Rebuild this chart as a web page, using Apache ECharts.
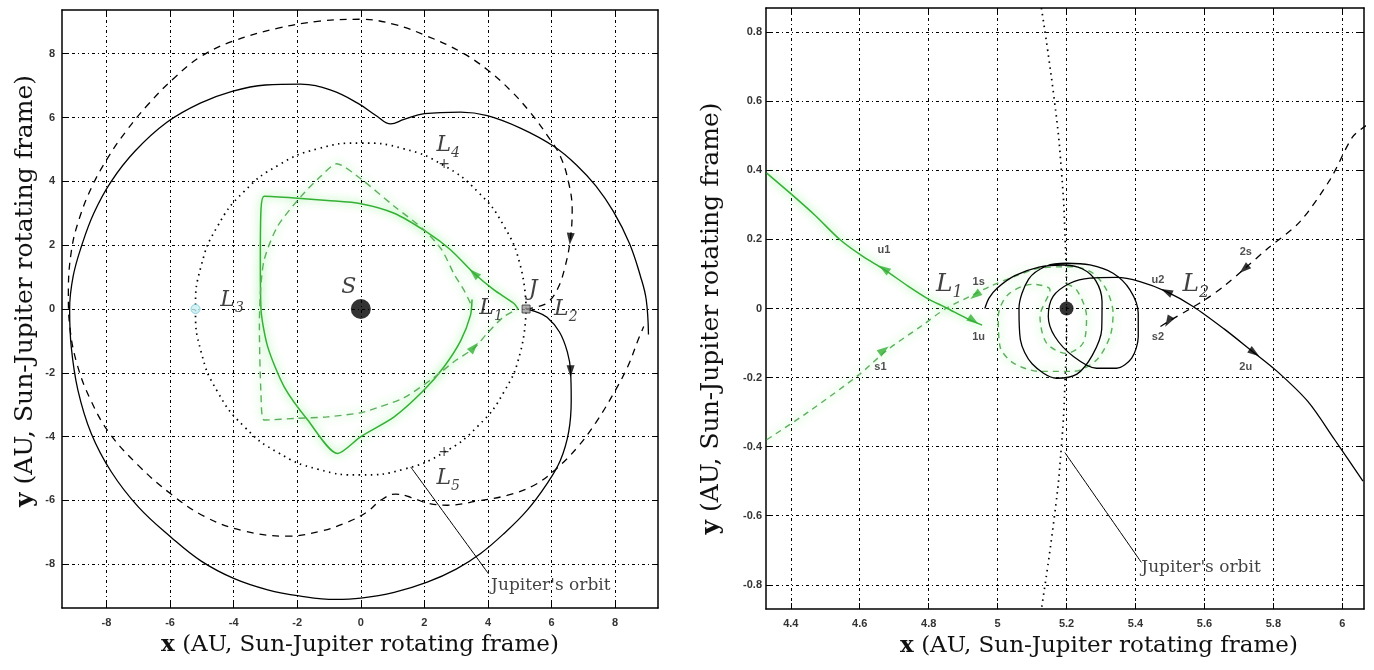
<!DOCTYPE html>
<html><head><meta charset="utf-8">
<script src="https://cdn.jsdelivr.net/npm/echarts@6/dist/echarts.min.js"></script>
<style>html,body{margin:0;padding:0;background:#fff}#c{width:1374px;height:670px}</style>
</head><body><div id="c"></div><script>
// ---- tick values ----
const leftTicks = [-8,-6,-4,-2,0,2,4,6,8];
const rightXTicks = [4.4,4.6,4.8,5.0,5.2,5.4,5.6,5.8,6.0];
const rightYTicks = [-0.8,-0.6,-0.4,-0.2,0,0.2,0.4,0.6,0.8];

// ---- left panel data ----
const jupOrbitLeft = [[5.2,0],[5.023,1.346],[4.503,2.6],[3.677,3.677],[2.6,4.503],[1.346,5.023],[0,5.2],[-1.346,5.023],[-2.6,4.503],[-3.677,3.677],[-4.503,2.6],[-5.023,1.346],[-5.2,0],[-5.023,-1.346],[-4.503,-2.6],[-3.677,-3.677],[-2.6,-4.503],[-1.346,-5.023],[0,-5.2],[1.346,-5.023],[2.6,-4.503],[3.677,-3.677],[4.503,-2.6],[5.023,-1.346],[5.2,0]];
const unstableLeft = [[5.2,0],[5.5,-0.08],[5.86,-0.26],[6.25,-0.72],[6.5,-1.35],[6.6,-1.95],[6.62,-2.86],[6.54,-3.85],[6.28,-4.74],[5.86,-5.47],[5.23,-6.31],[4.5,-7.04],[3.77,-7.66],[3.0,-8.15],[2.09,-8.56],[1.05,-8.88],[0,-9.06],[-0.8,-9.1],[-1.94,-8.99],[-2.93,-8.8],[-3.98,-8.45],[-5.02,-7.9],[-5.97,-7.15],[-7.0,-6.2],[-7.85,-5.1],[-8.48,-3.9],[-8.9,-2.54],[-9.11,-1.18],[-9.16,0],[-9.05,1.02],[-8.79,1.96],[-8.4,3.0],[-7.85,4.0],[-7.1,4.95],[-6.1,5.85],[-5.05,6.45],[-4.05,6.82],[-3.0,7.02],[-1.9,7.05],[-0.92,6.85],[-0.1,6.45],[0.5,6.05],[0.94,5.8],[1.36,5.94],[2.0,6.12],[3.14,6.17],[3.98,6.06],[5.02,5.67],[6.07,5.1],[6.8,4.5],[7.4,3.85],[7.95,3.05],[8.45,2.06],[8.8,1.02],[8.98,0.29],[9.05,-0.8]];
const stableLeft = [[5.2,0],[5.6,0.08],[5.9,0.22],[6.2,0.65],[6.42,1.3],[6.59,2.17],[6.65,3.11],[6.54,3.95],[6.28,4.78],[5.86,5.45],[5.34,6.15],[4.71,6.85],[3.98,7.5],[3.14,8.06],[2.09,8.55],[1.05,8.92],[0,9.08],[-1.3,9.02],[-2.6,8.8],[-4.0,8.4],[-5.02,7.92],[-5.86,7.25],[-6.7,6.4],[-7.4,5.55],[-7.95,4.75],[-8.45,3.85],[-8.85,2.85],[-9.1,1.85],[-9.2,0.5],[-9.15,-0.6],[-8.92,-1.75],[-8.5,-2.85],[-7.9,-3.9],[-7.0,-4.9],[-5.97,-5.8],[-4.92,-6.5],[-3.7,-6.95],[-2.3,-7.12],[-1.26,-6.96],[-0.42,-6.68],[0.21,-6.35],[0.63,-5.99],[1.1,-5.8],[1.57,-5.9],[2.09,-6.08],[2.72,-6.15],[3.66,-6.02],[4.6,-5.84],[5.44,-5.53],[6.1,-5.05],[6.8,-4.35],[7.4,-3.55],[7.95,-2.65],[8.4,-1.8],[8.72,-0.98],[8.9,-0.55]];
const greenSolidLeft = [[4.95,0],[4.81,0.18],[4.19,0.6],[3.56,1.12],[2.83,1.85],[2.09,2.4],[1.05,3.0],[0,3.3],[-1.05,3.4],[-2.09,3.48],[-3.04,3.53],[-3.14,3.11],[-3.16,1.54],[-3.14,0],[-2.93,-1.18],[-2.41,-2.44],[-1.67,-3.48],[-0.73,-4.53],[0,-4.0],[1.05,-3.38],[1.99,-2.54],[2.62,-1.81],[3.14,-1.0],[3.45,-0.2],[3.5,0.3]];
const greenDashedLeft = [[3.45,0.18],[3.24,0.6],[2.93,1.1],[2.55,1.85],[1.99,2.48],[1.05,3.22],[0,4.08],[-0.76,4.55],[-1.26,4.16],[-1.88,3.53],[-2.62,2.59],[-3.04,1.54],[-3.16,0.49],[-3.19,-0.55],[-3.14,-2.65],[-3.04,-3.48],[-2.09,-3.43],[-1.05,-3.38],[0,-3.25],[0.5,-3.1],[1.36,-2.78],[2.3,-2.15],[3.0,-1.6],[3.56,-1.23],[3.98,-0.76],[4.5,-0.24],[4.95,0]];
const annotLineLeft = [[1.57,-4.95],[4.02,-8.3]];
const arrowsLeft = [[6.59,2.2,175,'#000'],[6.6,-1.95,180,'#000'],[3.56,1.12,47,'#33b033'],[3.56,-1.2,-42,'#33b033']];
const textsLeft = [[-0.38,0.68,'{i|S}'],[5.42,0.62,'{i|J}'],[-4.05,0.28,'{i|L}{s|3}'],[4.1,0.02,'{i|L}{s|1}'],[6.45,-0.02,'{i|L}{s|2}'],[2.75,5.12,'{i|L}{s|4}'],[2.75,-5.3,'{i|L}{s|5}'],[2.62,4.52,'{p|+}'],[2.62,-4.48,'{p|+}']];
const orbitTextLeft = [[4.1,-8.68,"Jupiter's orbit"]];

// ---- right panel data ----
const jupOrbitRight = [[5.127,0.87],[5.165,0.6],[5.185,0.4],[5.196,0.2],[5.2,0],[5.196,-0.2],[5.185,-0.4],[5.165,-0.6],[5.127,-0.87]];
const greenSolidRight = [[4.33,0.392],[4.398,0.334],[4.47,0.27],[4.543,0.199],[4.61,0.15],[4.669,0.114],[4.74,0.065],[4.798,0.028],[4.849,0.003],[4.913,-0.03],[4.955,-0.048]];
const greenDashedRight = [[4.33,-0.38],[4.45,-0.3],[4.6,-0.19],[4.68,-0.12],[4.78,-0.05],[4.85,0.0],[4.93,0.04],[4.98,0.065],[5.055,0.095],[5.123,0.117],[5.22,0.121],[5.277,0.102],[5.316,0.054],[5.335,-0.014],[5.326,-0.081],[5.287,-0.149],[5.22,-0.182],[5.123,-0.182],[5.046,-0.158],[5.007,-0.11],[5.002,-0.023],[5.03,0.04],[5.1,0.07],[5.152,0.054],[5.123,-0.023],[5.142,-0.1],[5.2,-0.13],[5.248,-0.1],[5.258,-0.023],[5.229,0.054],[5.19,0.075]];
const blackSolidRight = [[6.06,-0.5],[5.978,-0.38],[5.9,-0.269],[5.811,-0.182],[5.734,-0.12],[5.657,-0.059],[5.567,0.006],[5.49,0.049],[5.413,0.078],[5.345,0.09],[5.268,0.088],[5.21,0.073],[5.161,0.035],[5.147,-0.023],[5.166,-0.081],[5.22,-0.139],[5.287,-0.173],[5.345,-0.173],[5.389,-0.144],[5.408,-0.081],[5.408,-0.014],[5.384,0.054],[5.335,0.102],[5.268,0.126],[5.2,0.131],[5.142,0.123],[5.09,0.085],[5.062,0.0],[5.066,-0.09],[5.1,-0.16],[5.171,-0.202],[5.23,-0.19],[5.275,-0.135],[5.302,-0.06],[5.303,0.02],[5.285,0.08],[5.245,0.115],[5.19,0.126],[5.12,0.12],[5.05,0.095],[5.0,0.06],[4.975,0.03],[4.963,0.0]];
const blackDashedRight = [[6.07,0.53],[6.03,0.497],[5.965,0.374],[5.876,0.25],[5.786,0.176],[5.715,0.114],[5.657,0.065],[5.606,0.028],[5.56,0.0],[5.5,-0.035],[5.46,-0.06]];
const annotLineRight = [[5.195,-0.417],[5.417,-0.735]];
const arrowsRight = [[4.67,0.115,56,'#33b033'],[4.93,-0.035,-124,'#33b033'],[4.67,-0.12,-54,'#33b033'],[4.935,0.038,126,'#33b033'],[5.49,0.049,65,'#000'],[5.745,-0.128,-125,'#000'],[5.715,0.114,131,'#000'],[5.495,-0.038,150,'#000']];
const smallTextsRight = [[4.67,0.17,'u1'],[4.945,0.077,'1s'],[4.945,-0.083,'1u'],[4.66,-0.17,'s1'],[5.465,0.083,'u2'],[5.465,-0.083,'s2'],[5.72,0.164,'2s'],[5.72,-0.17,'2u']];
const bigTextsRight = [[4.86,0.07,'{i|L}{s|1}'],[5.575,0.07,'{i|L}{s|2}']];
const orbitTextRight = [[5.417,-0.75,"Jupiter's orbit"]];

// ---- styles ----
const GREEN = '#34b034';
const SERIF = 'DejaVu Serif';
const gridLine = {show:true, lineStyle:{color:'#000', width:1, type:[3,3,1,3]}};
const tickLbl = {fontFamily:'Liberation Sans', fontSize:11, fontWeight:'bold', color:'#333'};
const richL = {
  i:{fontFamily:SERIF, fontStyle:'italic', fontSize:22, color:'#111', lineHeight:30, verticalAlign:'middle'},
  s:{fontFamily:SERIF, fontStyle:'italic', fontSize:14, color:'#111', lineHeight:30, verticalAlign:'bottom'},
  p:{fontFamily:'DejaVu Sans', fontSize:14, color:'#111'}
};
const richLBig = {
  i:{fontFamily:SERIF, fontStyle:'italic', fontSize:25, color:'#111', lineHeight:34, verticalAlign:'middle'},
  s:{fontFamily:SERIF, fontStyle:'italic', fontSize:16, color:'#111', lineHeight:34, verticalAlign:'bottom'}
};
const titleRich = (fs) => ({ b:{fontFamily:SERIF, fontWeight:'bold', fontSize:fs, color:'#111'} });

function xMain(gi, min, max, ticks, padLeft){
  return {type:'value', gridIndex:gi, position:'bottom', min, max,
    axisLine:{show:true, onZero:false, lineStyle:{color:'#000', width:1.5}},
    axisTick:{show:true, inside:true, length:6, customValues:ticks, lineStyle:{color:'#000'}},
    axisLabel:{show:true, margin:9, customValues:ticks, ...tickLbl},
    splitLine:gridLine,
    name:'{b|x} (AU, Sun-Jupiter rotating frame)', nameLocation:'middle', nameGap:26,
    nameTextStyle:{fontFamily:SERIF, fontSize:23, color:'#111', verticalAlign:'top', padding:[0,0,0,padLeft], rich:titleRich(23)}};
}
function xTop(gi, min, max, ticks){
  return {type:'value', gridIndex:gi, position:'top', min, max,
    axisLine:{show:true, onZero:false, lineStyle:{color:'#000', width:1.5}},
    axisTick:{show:true, inside:true, length:6, customValues:ticks, lineStyle:{color:'#000'}},
    axisLabel:{show:false}, splitLine:{show:false}};
}
function yMain(gi, min, max, ticks, gap, pad, margin){
  return {type:'value', gridIndex:gi, position:'left', min, max,
    axisLine:{show:true, onZero:false, lineStyle:{color:'#000', width:1.5}},
    axisTick:{show:true, inside:true, length:6, customValues:ticks, lineStyle:{color:'#000'}},
    axisLabel:{show:true, margin, customValues:ticks, ...tickLbl},
    splitLine:gridLine,
    name:'{b|y} (AU, Sun-Jupiter rotating frame)', nameLocation:'middle', nameGap:gap,
    nameTextStyle:{fontFamily:SERIF, fontSize:25, color:'#111', padding:pad, rich:titleRich(25)}};
}
function yRight(gi, min, max, ticks){
  return {type:'value', gridIndex:gi, position:'right', min, max,
    axisLine:{show:true, onZero:false, lineStyle:{color:'#000', width:1.5}},
    axisTick:{show:true, inside:true, length:6, customValues:ticks, lineStyle:{color:'#000'}},
    axisLabel:{show:false}, splitLine:{show:false}};
}

function line(data, xi, yi, style, z, sm){
  return {type:'line', xAxisIndex:xi, yAxisIndex:yi, data, showSymbol:false, symbol:'none',
    smooth:(sm===undefined?0.3:sm), lineStyle:style, z:z||3, silent:true, animation:false};
}
function arrows(data, xi, yi, size){
  return {type:'scatter', xAxisIndex:xi, yAxisIndex:yi, animation:false, silent:true, z:6,
    data:data.map(a=>({value:[a[0],a[1]], symbolRotate:a[2], itemStyle:{color:a[3]}})),
    symbol:'triangle', symbolSize:size};
}
function texts(data, xi, yi, rich){
  return {type:'scatter', xAxisIndex:xi, yAxisIndex:yi, animation:false, silent:true, z:7,
    data, symbolSize:0,
    label:{show:true, position:'inside', formatter:p=>p.data[2], rich}};
}

const glow = {shadowBlur:8, shadowColor:'rgba(70,230,70,0.8)'};

const option = {
  animation:false,
  backgroundColor:'#fff',
  grid:[
    {left:62, top:10, width:596, height:598},
    {left:766, top:8, width:598, height:601}
  ],
  xAxis:[
    xMain(0, -9.4, 9.35, leftTicks, 0),
    xTop(0, -9.4, 9.35, leftTicks),
    xMain(1, 4.328, 6.063, rightXTicks, 68),
    xTop(1, 4.328, 6.063, rightXTicks)
  ],
  yAxis:[
    yMain(0, -9.37, 9.37, leftTicks, 24, [0,0,0,36], 7),
    yRight(0, -9.37, 9.37, leftTicks),
    yMain(1, -0.87, 0.87, rightYTicks, 42, [0,20,0,0], 4),
    yRight(1, -0.87, 0.87, rightYTicks)
  ],
  series:[
    // left panel
    line(jupOrbitLeft, 0, 0, {color:'#000', width:1.7, type:[1.5,4.5]}, 2, 0.5),
    line(unstableLeft, 0, 0, {color:'#000', width:1.3}, 3, 0.4),
    line(stableLeft, 0, 0, {color:'#000', width:1.3, type:[7,6]}, 3, 0.4),
    line(greenSolidLeft, 0, 0, {color:GREEN, width:1.5, ...glow}, 4, 0.25),
    line(greenDashedLeft, 0, 0, {color:'#5fae5f', width:1.4, type:[7,5], ...glow}, 4, 0.25),
    line(annotLineLeft, 0, 0, {color:'#000', width:1}),
    arrows(arrowsLeft, 0, 0, [8,12]),
    {type:'scatter', xAxisIndex:0, yAxisIndex:0, data:[[0,0]], symbol:'circle', symbolSize:20, itemStyle:{color:'#000'}, z:5, silent:true, animation:false},
    {type:'scatter', xAxisIndex:0, yAxisIndex:0, data:[[5.2,0]], symbol:'rect', symbolSize:8, itemStyle:{color:'#9a9a9a', borderColor:'#333', borderWidth:1}, z:5, silent:true, animation:false},
    {type:'scatter', xAxisIndex:0, yAxisIndex:0, data:[[-5.2,0]], symbol:'circle', symbolSize:9, itemStyle:{color:'#c8f0f4', borderColor:'#7cc8d8', borderWidth:1}, z:5, silent:true, animation:false},
    texts(textsLeft, 0, 0, richL),
    {type:'scatter', xAxisIndex:0, yAxisIndex:0, data:orbitTextLeft, symbolSize:0, silent:true, animation:false, z:7,
      label:{show:true, position:'right', distance:0, formatter:p=>p.data[2], fontFamily:SERIF, fontSize:17, color:'#111'}},
    // right panel
    line(jupOrbitRight, 2, 2, {color:'#000', width:1.7, type:[1.5,4.5]}, 2, 0.5),
    line(greenDashedRight, 2, 2, {color:'#5fae5f', width:1.4, type:[6,5], ...glow}, 4),
    line(greenSolidRight, 2, 2, {color:GREEN, width:1.5, ...glow}, 4),
    line(blackSolidRight, 2, 2, {color:'#000', width:1.3}, 5),
    line(blackDashedRight, 2, 2, {color:'#000', width:1.3, type:[7,6]}, 5),
    line(annotLineRight, 2, 2, {color:'#000', width:1}),
    arrows(arrowsRight, 2, 2, [8,12]),
    {type:'scatter', xAxisIndex:2, yAxisIndex:2, data:[[5.2,0]], symbol:'circle', symbolSize:14, itemStyle:{color:'#000'}, z:6, silent:true, animation:false},
    {type:'scatter', xAxisIndex:2, yAxisIndex:2, data:smallTextsRight, symbolSize:0, silent:true, animation:false, z:7,
      label:{show:true, position:'inside', formatter:p=>p.data[2], fontFamily:'Liberation Sans', fontWeight:'bold', fontSize:11, color:'#222'}},
    texts(bigTextsRight, 2, 2, richLBig),
    {type:'scatter', xAxisIndex:2, yAxisIndex:2, data:orbitTextRight, symbolSize:0, silent:true, animation:false, z:7,
      label:{show:true, position:'right', distance:0, formatter:p=>p.data[2], fontFamily:SERIF, fontSize:17, color:'#111'}}
  ]
};
const chart = echarts.init(document.getElementById('c'), null, {renderer:'canvas'});
chart.setOption(option);
</script></body></html>
